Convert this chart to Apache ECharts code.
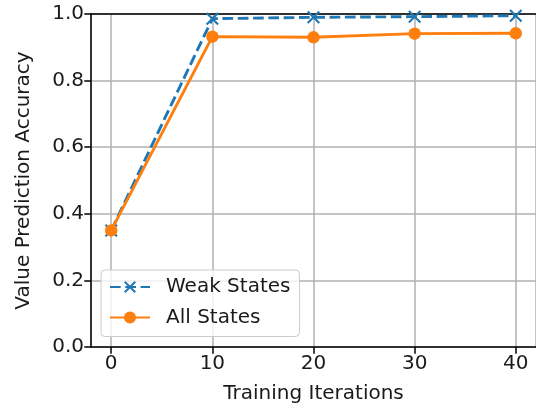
<!DOCTYPE html>
<html>
<head>
<meta charset="utf-8">
<script src="https://cdn.jsdelivr.net/npm/echarts@6/dist/echarts.min.js"></script>
<style>
  html, body { margin: 0; padding: 0; background: #fff; }
  #chart { width: 536px; height: 413px; }
</style>
</head>
<body>
<div id="chart"></div>
<script>
// Training iterations on the x axis
const iterations = [0, 10, 20, 30, 40];
// Value prediction accuracy per evaluation point
const weakStates = [0.35, 0.986, 0.990, 0.992, 0.995];
const allStates = [0.35, 0.932, 0.930, 0.941, 0.942];
const seriesNames = ['Weak States', 'All States'];

const FONT = 'DejaVu Sans';
const TEXT = '#1a1a1a';
const BLUE = '#1f77b4';
const ORANGE = '#ff7f0e';
const GRID = '#b0b0b0';

// "x" marker as a filled outline
const d = 2.3;
const crossPath = 'path://M0,' + d + 'L' + d + ',0L10,' + (10 - d) + 'L' + (20 - d) + ',0L20,' + d +
  'L' + (10 + d) + ',10L20,' + (20 - d) + 'L' + (20 - d) + ',20L10,' + (10 + d) + 'L' + d + ',20L0,' +
  (20 - d) + 'L' + (10 - d) + ',10Z';

const pairs = (xs, ys) => xs.map((x, i) => [x, ys[i]]);

const chart = echarts.init(document.getElementById('chart'), null, { renderer: 'canvas' });

chart.setOption({
  animation: false,
  backgroundColor: '#fff',
  textStyle: { fontFamily: FONT },
  grid: { left: 91, right: -2, top: 14, bottom: 66, containLabel: false },
  xAxis: [{
    type: 'value',
    min: -2,
    max: 42,
    name: 'Training Iterations',
    nameLocation: 'middle',
    nameGap: 37,
    nameTextStyle: { fontFamily: FONT, fontSize: 20, color: TEXT },
    axisLine: { show: true, onZero: false, lineStyle: { color: '#000', width: 1.5 } },
    axisTick: { show: true, length: 6.7, lineStyle: { color: '#000', width: 1.5 } },
    axisLabel: {
      show: true, margin: 7, fontFamily: FONT, fontSize: 20, color: TEXT,
      showMinLabel: false, showMaxLabel: false,
      formatter: v => (v % 10 === 0 ? String(v) : '')
    },
    splitLine: { show: true, lineStyle: { color: GRID, width: 1.5 } }
  }, {
    type: 'value',
    position: 'top',
    min: -2,
    max: 42,
    axisLine: { show: true, onZero: false, lineStyle: { color: '#000', width: 1.5 } },
    axisTick: { show: false },
    axisLabel: { show: false },
    splitLine: { show: false }
  }],
  yAxis: {
    type: 'value',
    min: 0,
    max: 1,
    interval: 0.2,
    name: 'Value Prediction Accuracy',
    nameLocation: 'middle',
    nameGap: 57,
    nameTextStyle: { fontFamily: FONT, fontSize: 20, color: TEXT },
    axisLine: { show: true, onZero: false, lineStyle: { color: '#000', width: 1.5 } },
    axisTick: { show: true, length: 6.7, lineStyle: { color: '#000', width: 1.5 } },
    axisLabel: {
      margin: 7, fontFamily: FONT, fontSize: 20, color: TEXT,
      formatter: v => v.toFixed(1)
    },
    splitLine: { show: true, lineStyle: { color: GRID, width: 1.5 } }
  },
  legend: {
    orient: 'vertical',
    left: 101,
    top: 270,
    padding: [7, 9, 9, 8],
    itemWidth: 40,
    itemHeight: 15,
    itemGap: 10.5,
    backgroundColor: 'rgba(255,255,255,0.8)',
    borderColor: '#cccccc',
    borderWidth: 1,
    borderRadius: 4,
    textStyle: { fontFamily: FONT, fontSize: 20, color: TEXT, lineHeight: 20, padding: [0, 0, 0, 11] },
    data: seriesNames
  },
  series: [{
    name: seriesNames[0],
    type: 'line',
    data: pairs(iterations, weakStates),
    symbol: crossPath,
    symbolSize: 13,
    color: BLUE,
    lineStyle: { color: BLUE, width: 2.9, type: [10.7, 4.6] },
    itemStyle: { color: BLUE },
    z: 3
  }, {
    name: seriesNames[1],
    type: 'line',
    data: pairs(iterations, allStates),
    symbol: 'circle',
    symbolSize: 12.5,
    color: ORANGE,
    lineStyle: { color: ORANGE, width: 2.9 },
    itemStyle: { color: ORANGE, borderWidth: 0 },
    z: 4
  }]
});
</script>
</body>
</html>
